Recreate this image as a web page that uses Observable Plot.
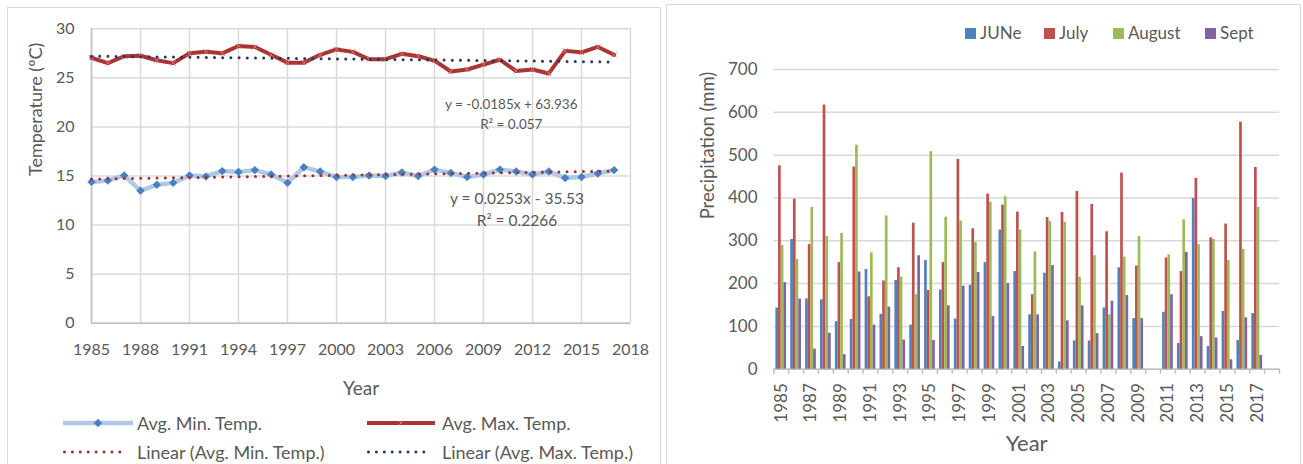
<!DOCTYPE html>
<html>
<head>
<meta charset="utf-8">
<script src="https://cdn.jsdelivr.net/npm/d3@7"></script>
<script src="https://cdn.jsdelivr.net/npm/@observablehq/plot@0.6"></script>
<style>
  body { margin: 0; background: #fff; }
  #root { position: relative; width: 1303px; height: 464px; overflow: hidden; background: #fff; font-family: Lato, sans-serif; color: #595959; }
  .box { position: absolute; border: 1.5px solid #d9d9d9; box-sizing: border-box; }
  .abs { position: absolute; }
  .lg { position: absolute; font-size: 18px; line-height: 22px; white-space: nowrap; color: #595959; }
  .lgr { position: absolute; font-size: 17px; line-height: 20px; white-space: nowrap; color: #595959; }
  svg.plot { max-width: none !important; }
</style>
</head>
<body>
<div id="root">
  <div class="box" style="left:7px;top:7px;width:654px;height:480px"></div>
  <div class="box" style="left:666px;top:4px;width:635px;height:480px"></div>
  <div id="left" class="abs" style="left:0;top:0;width:660px;height:400px"></div>
  <div id="rightBase" class="abs" style="left:667px;top:0;width:636px;height:464px"></div>
  <div id="rightBars" class="abs" style="left:667px;top:0;width:636px;height:464px"></div>
  <div id="legendL"></div>
  <div id="legendR"></div>
</div>
<script>
// ---------- Temperature data ----------
const tempYears = [1985,1986,1987,1988,1989,1990,1991,1992,1993,1994,1995,1996,1997,1998,1999,2000,2001,2002,2003,2004,2005,2006,2007,2008,2009,2010,2011,2012,2013,2014,2015,2016,2017];
const minTemp = [14.4,14.55,15.05,13.5,14.1,14.3,15.05,14.95,15.5,15.4,15.6,15.15,14.3,15.9,15.45,14.9,14.9,15.05,15.0,15.35,15.0,15.65,15.3,14.9,15.15,15.65,15.45,15.15,15.45,14.8,14.9,15.25,15.6];
const maxTemp = [27.05,26.5,27.2,27.25,26.8,26.5,27.5,27.65,27.5,28.25,28.15,27.35,26.55,26.55,27.35,27.9,27.65,26.9,26.9,27.45,27.2,26.75,25.65,25.85,26.35,26.85,25.7,25.85,25.45,27.75,27.6,28.15,27.35];
const trendYears = [1985, 2017];
const minTrend = [14.69, 15.50];
const maxTrend = [27.21, 26.62];
const tempXTicks = [1985,1988,1991,1994,1997,2000,2003,2006,2009,2012,2015,2018];
const tempYTicks = [0,5,10,15,20,25,30];
const eqMax = ["y = -0.0185x + 63.936", "R² = 0.057"];
const eqMin = ["y = 0.0253x - 35.53", "R² = 0.2266"];
const tempLegend = ["Avg. Min. Temp.", "Avg. Max. Temp.", "Linear (Avg. Min. Temp.)", "Linear (Avg. Max. Temp.)"];

// ---------- Precipitation data ----------
const barYears = [1985,1986,1987,1988,1989,1990,1991,1992,1993,1994,1995,1996,1997,1998,1999,2000,2001,2002,2003,2004,2005,2006,2007,2008,2009,2010,2011,2012,2013,2014,2015,2016,2017,2018];
const months = ["JUNe", "July", "August", "Sept"];
const june   = [143,303,164,162,111,116,233,128,207,103,254,185,117,196,249,325,228,127,224,17,66,66,143,237,118,null,133,60,399,53,135,67,130];
const july   = [475,397,291,617,249,472,169,206,237,341,184,249,490,328,409,383,367,174,354,366,415,385,321,458,241,null,260,228,446,307,339,577,471];
const august = [289,256,378,310,317,523,272,358,215,174,508,355,346,296,390,403,325,274,345,343,215,265,127,262,310,null,267,349,291,303,254,280,378];
const sept   = [202,164,47,84,34,227,103,145,68,265,67,148,194,226,123,200,53,127,242,113,148,83,159,172,118,null,174,273,76,73,22,120,32];
const precipTicks = [0,100,200,300,400,500,600,700];
const barLabelYears = [1985,1987,1989,1991,1993,1995,1997,1999,2001,2003,2005,2007,2009,2011,2013,2015,2017];
const monthColors = ["#4f81bd", "#c0504d", "#9bbb59", "#8064a2"];

// ---------- Build tables ----------
const tempRows = tempYears.map((year, i) => ({year, min: minTemp[i], max: maxTemp[i]}));
const trendRows = trendYears.map((year, i) => ({year, min: minTrend[i], max: maxTrend[i]}));
const series = [june, july, august, sept];
const precipRows = [];
tempYears.forEach((year, i) => {
  months.forEach((m, k) => {
    const v = series[k][i];
    if (v != null) precipRows.push({year, month: m, value: v});
  });
});
const boundaries = barYears.map(y => y - 0.5).concat([barYears[barYears.length - 1] + 0.5]);

const TXT = "#595959";
const GRID = "#d9d9d9";
const AXIS = "#bfbfbf";
const baseStyle = {background: "transparent", fontFamily: "Lato, sans-serif", color: TXT, overflow: "visible"};

// ---------- Left chart ----------
const left = Plot.plot({
  width: 660, height: 400,
  marginLeft: 91, marginRight: 30, marginTop: 28.3, marginBottom: 77.3,
  style: baseStyle,
  x: {type: "linear", domain: [1985, 2018]},
  y: {domain: [0, 30]},
  marks: [
    Plot.gridX(tempXTicks, {stroke: GRID, strokeOpacity: 1, strokeWidth: 1.5}),
    Plot.gridY(tempYTicks, {stroke: GRID, strokeOpacity: 1, strokeWidth: 1.5}),
    Plot.ruleX([1985], {stroke: AXIS, strokeWidth: 1.5}),
    Plot.ruleY([0], {stroke: AXIS, strokeWidth: 1.5}),
    Plot.axisX(tempXTicks, {tickSize: 0, tickPadding: 20, tickFormat: "d", fontSize: 16, label: null}),
    Plot.axisY(tempYTicks, {tickSize: 0, tickPadding: 17, fontSize: 16, label: null}),
    Plot.line(tempRows, {x: "year", y: "min", stroke: "#b0c8e8", strokeWidth: 4.5}),
    Plot.line(tempRows, {x: "year", y: "max", stroke: "#a83434", strokeWidth: 4}),
    Plot.dot(tempRows, {x: "year", y: "min", symbol: "diamond2", fill: "#4a7fc1", stroke: "none", r: 3.8}),
    Plot.dot(tempRows, {x: "year", y: "max", symbol: "times", stroke: "#e07070", strokeWidth: 1, r: 2.4}),
    Plot.line(trendRows, {x: "year", y: "min", stroke: "#a0302c", strokeWidth: 3, strokeDasharray: "0 8.2", strokeLinecap: "round"}),
    Plot.line(trendRows, {x: "year", y: "max", stroke: "#1f3864", strokeWidth: 3, strokeDasharray: "0 8.2", strokeLinecap: "round"}),
    Plot.text([eqMax.join("\n")], {x: 2010.7, y: 21.47, fontSize: 13.5, lineHeight: 1.48, fill: TXT}),
    Plot.text([eqMin.join("\n")], {x: 2011.05, y: 11.78, fontSize: 15.5, lineHeight: 1.42, fill: TXT}),
    Plot.text(["Temperature (ºC)"], {frameAnchor: "left", dx: -55.3, rotate: -90, fontSize: 18, fill: TXT}),
    Plot.text(["Year"], {frameAnchor: "bottom", dy: 72, fontSize: 19, fill: TXT})
  ]
});
document.getElementById("left").appendChild(left);

// ---------- Right chart: axes & grid ----------
const W = 636, H = 464, ML = 106.3, MR = 24, MT = 69, MB = 95.3;
const rightBase = Plot.plot({
  width: W, height: H, marginLeft: ML, marginRight: MR, marginTop: MT, marginBottom: MB,
  style: baseStyle,
  x: {type: "linear", domain: [boundaries[0], boundaries[boundaries.length - 1]]},
  y: {domain: [0, 700]},
  marks: [
    Plot.gridY(precipTicks, {stroke: GRID, strokeOpacity: 1, strokeWidth: 1.5}),
    Plot.ruleY([0], {stroke: AXIS, strokeWidth: 1.5}),
    Plot.axisY(precipTicks, {tickSize: 0, tickPadding: 16.3, fontSize: 17, label: null}),
    Plot.axisX(boundaries, {tickSize: 5, tickFormat: () => "", stroke: AXIS, strokeWidth: 1.5, label: null}),
    Plot.axisX(barLabelYears, {tickSize: 0, tickPadding: 14, tickRotate: -90, tickFormat: "d", fontSize: 17, label: null}),
    Plot.text(["Precipitation (mm)"], {frameAnchor: "left", dx: -65.3, rotate: -90, fontSize: 18.5, fill: TXT}),
    Plot.text(["Year"], {frameAnchor: "bottom", dy: 82, fontSize: 22, fill: TXT})
  ]
});
document.getElementById("rightBase").appendChild(rightBase);

// ---------- Right chart: bars ----------
const rightBars = Plot.plot({
  width: W, height: H, marginLeft: ML, marginRight: MR, marginTop: MT, marginBottom: MB,
  style: baseStyle,
  fx: {domain: barYears, paddingInner: 0.28, paddingOuter: 0.14, round: false, axis: null, label: null},
  x: {domain: months, padding: 0, round: false, axis: null},
  y: {domain: [0, 700], axis: null},
  color: {domain: months, range: monthColors},
  marks: [
    Plot.barY(precipRows, {fx: "year", x: "month", y: "value", fill: "month", insetLeft: 0, insetRight: 0})
  ]
});
document.getElementById("rightBars").appendChild(rightBars);

// ---------- Legends ----------
const legendL = document.getElementById("legendL");
function addLineLegend(x, y, w, label, textX, swatchSvg) {
  const s = document.createElement("div");
  s.className = "abs";
  s.style.left = x + "px"; s.style.top = (y - 7) + "px";
  s.innerHTML = `<svg width="${w}" height="14" style="display:block;overflow:visible">${swatchSvg(w)}</svg>`;
  legendL.appendChild(s);
  const t = document.createElement("div");
  t.className = "lg";
  t.style.left = textX + "px"; t.style.top = (y - 11) + "px";
  t.textContent = label;
  legendL.appendChild(t);
}
addLineLegend(63, 423, 70, tempLegend[0], 137, w =>
  `<line x1="0" y1="7" x2="${w}" y2="7" stroke="#b0c8e8" stroke-width="4.5"/>` +
  `<rect x="${w/2-3}" y="4" width="6" height="6" fill="#4a7fc1" transform="rotate(45 ${w/2} 7)"/>`);
addLineLegend(367, 423, 68, tempLegend[1], 442, w =>
  `<line x1="0" y1="7" x2="${w}" y2="7" stroke="#a83434" stroke-width="4"/>` +
  `<path d="M${w/2-2},5L${w/2+2},9M${w/2+2},5L${w/2-2},9" stroke="#e07070" stroke-width="1"/>`);
addLineLegend(63, 452, 64, tempLegend[2], 137, w =>
  `<line x1="1.5" y1="7" x2="${w}" y2="7" stroke="#a0302c" stroke-width="3" stroke-dasharray="0 7.9" stroke-linecap="round"/>`);
addLineLegend(367, 452, 64, tempLegend[3], 442, w =>
  `<line x1="1.5" y1="7" x2="${w}" y2="7" stroke="#1f3864" stroke-width="3" stroke-dasharray="0 7.9" stroke-linecap="round"/>`);

const legendR = document.getElementById("legendR");
const legendRX = [965, 1044, 1113, 1205];
months.forEach((m, i) => {
  const sq = document.createElement("div");
  sq.className = "abs";
  sq.style.cssText += `left:${legendRX[i]}px;top:28px;width:11px;height:11px;background:${monthColors[i]}`;
  legendR.appendChild(sq);
  const t = document.createElement("div");
  t.className = "lgr";
  t.style.left = (legendRX[i] + 15) + "px"; t.style.top = "23px";
  t.textContent = m;
  legendR.appendChild(t);
});
</script>
</body>
</html>
